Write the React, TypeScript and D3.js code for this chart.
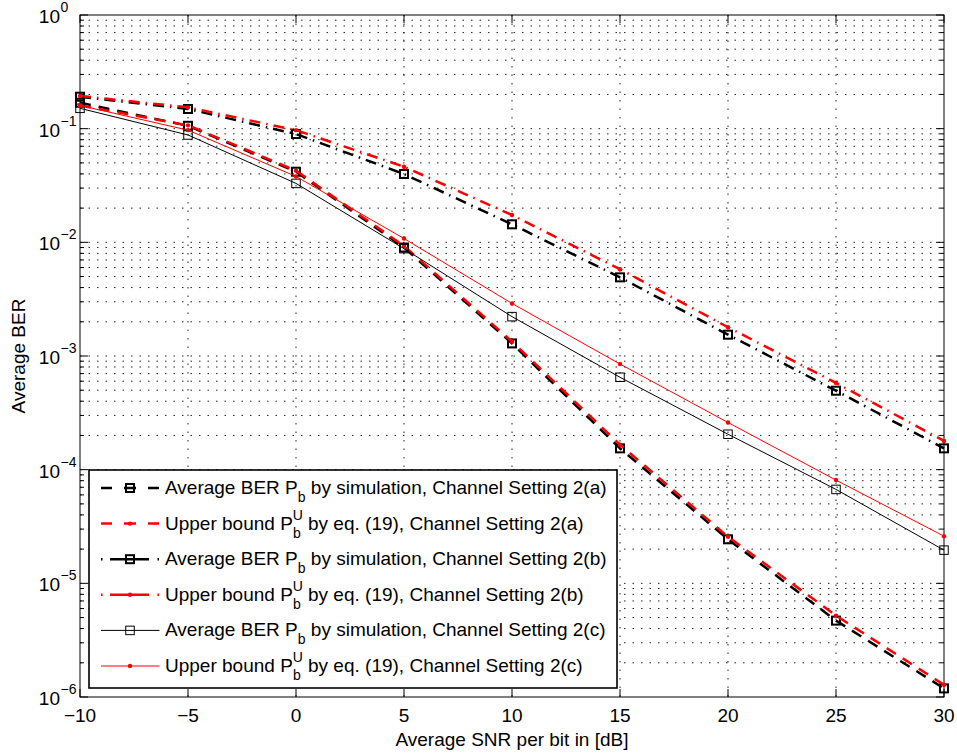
import React from 'react'
import * as d3 from 'd3'

// Data
const snr = [-10, -5, 0, 5, 10, 15, 20, 25, 30]
const simA = [0.169, 0.106, 0.0418, 0.009, 1.29e-3, 1.54e-4, 2.44e-5, 4.7e-6, 1.19e-6]
const boundA = [0.16, 0.107, 0.0427, 0.0093, 1.34e-3, 1.66e-4, 2.57e-5, 5.2e-6, 1.28e-6]
const simB = [0.191, 0.149, 0.0897, 0.0399, 0.0144, 4.92e-3, 1.54e-3, 4.95e-4, 1.54e-4]
const boundB = [0.194, 0.154, 0.097, 0.0463, 0.0174, 5.8e-3, 1.79e-3, 5.8e-4, 1.79e-4]
const simC = [0.151, 0.088, 0.033, 0.0088, 2.22e-3, 6.5e-4, 2.05e-4, 6.7e-5, 1.96e-5]
const boundC = [0.16, 0.097, 0.038, 0.0108, 2.9e-3, 8.5e-4, 2.6e-4, 8.1e-5, 2.6e-5]

const xTicks = [-10, -5, 0, 5, 10, 15, 20, 25, 30]
const yExponents = [0, -1, -2, -3, -4, -5, -6]
const settings = ['2(a)', '2(a)', '2(b)', '2(b)', '2(c)', '2(c)']

const W = 957
const H = 754
const left = 80
const right = 944
const top = 15
const bottom = 697
const font = "'Liberation Sans', Arial, Helvetica, sans-serif"
const fs = 19
const fsSmall = 14

const x = d3.scaleLinear().domain([-10, 30]).range([left, right])
const y = d3.scaleLog().domain([1e-6, 1]).range([bottom, top])

type Series = {
    values: number[]
    color: string
    width: number
    dash: string
    legendDash: string
    marker: 'square' | 'dot'
    markerWidth: number
    bound: boolean
}

const series: Series[] = [
    { values: simA, color: '#000', width: 2.5, dash: '11,8', legendDash: '11,12,12,12,11', marker: 'square', markerWidth: 2, bound: false },
    { values: boundA, color: '#f00', width: 2.5, dash: '11,8', legendDash: '11,12,12,12,11', marker: 'dot', markerWidth: 0, bound: true },
    { values: simB, color: '#000', width: 2.5, dash: '11,6,1.5,6', legendDash: '1.5,7.5,39,8.5,1.5', marker: 'square', markerWidth: 2, bound: false },
    { values: boundB, color: '#f00', width: 2.5, dash: '11,6,1.5,6', legendDash: '1.5,7.5,39,8.5,1.5', marker: 'dot', markerWidth: 0, bound: true },
    { values: simC, color: '#000', width: 1, dash: 'none', legendDash: 'none', marker: 'square', markerWidth: 1, bound: false },
    { values: boundC, color: '#f00', width: 1, dash: 'none', legendDash: 'none', marker: 'dot', markerWidth: 0, bound: true },
]

const lineGen = d3.line<[number, number]>()
    .x(d => x(d[0]))
    .y(d => y(d[1]))

const Marker = ({ s, cx, cy }: { s: Series, cx: number, cy: number }) => {
    if (s.marker === 'dot') {
        return <circle cx={cx} cy={cy} r={2.2} fill={s.color} />
    }
    const size = s.markerWidth > 1 ? 8 : 8.5
    return (
        <rect x={cx - size / 2} y={cy - size / 2} width={size} height={size}
            fill="none" stroke={s.color} strokeWidth={s.markerWidth} />
    )
}

const App = () => {
    const minorY = y.ticks()
    const legX = 89
    const legY = 470
    const legW = 528
    const legH = 218
    const rowH = 35.6

    return (
        <svg width={W} height={H} style={{ position: 'absolute', left: 0, top: 0, background: '#fff' }}
            fontFamily={font}>
            <rect x={0} y={0} width={W} height={H} fill="#fff" />
            {/* grid */}
            <g stroke="#222" strokeWidth={1} strokeDasharray="1.5,7">
                {xTicks.slice(1, -1).map(t => (
                    <line key={'gx' + t} x1={x(t)} x2={x(t)} y1={top} y2={bottom} />
                ))}
                {minorY.filter(t => t > 1e-6 && t < 1).map((t, i) => (
                    <line key={'gy' + i} x1={left} x2={right} y1={y(t)} y2={y(t)} />
                ))}
            </g>
            {/* ticks */}
            <g stroke="#000" strokeWidth={1}>
                {xTicks.map(t => (
                    <g key={'tx' + t}>
                        <line x1={x(t)} x2={x(t)} y1={bottom} y2={bottom - 8} />
                        <line x1={x(t)} x2={x(t)} y1={top} y2={top + 8} />
                    </g>
                ))}
                {minorY.map((t, i) => {
                    const major = Math.abs(Math.log10(t) - Math.round(Math.log10(t))) < 1e-9
                    const len = major ? 8 : 4
                    return (
                        <g key={'ty' + i}>
                            <line x1={left} x2={left + len} y1={y(t)} y2={y(t)} />
                            <line x1={right} x2={right - len} y1={y(t)} y2={y(t)} />
                        </g>
                    )
                })}
            </g>
            <rect x={left} y={top} width={right - left} height={bottom - top} fill="none" stroke="#000" strokeWidth={1} />

            {/* tick labels */}
            <g fontSize={fs} fill="#000">
                {xTicks.map(t => (
                    <text key={'lx' + t} x={x(t)} y={bottom + 25} textAnchor="middle">
                        {t < 0 ? '\u2212' + Math.abs(t) : String(t)}
                    </text>
                ))}
                {yExponents.map(e => (
                    <g key={'ly' + e}>
                        <text x={60} y={y(Math.pow(10, e)) + 8} textAnchor="end">10</text>
                        <text x={60.5} y={y(Math.pow(10, e)) - 3} fontSize={fsSmall}>
                            {e < 0 ? '\u2212' + Math.abs(e) : String(e)}
                        </text>
                    </g>
                ))}
            </g>
            <text x={(left + right) / 2} y={bottom + 49} textAnchor="middle" fontSize={fs}>
                Average SNR per bit in [dB]
            </text>
            <text transform={`translate(25,${(top + bottom) / 2}) rotate(-90)`} textAnchor="middle" fontSize={fs}>
                Average BER
            </text>

            {/* series */}
            {series.map((s, i) => {
                const pts = snr.map((v, j) => [v, s.values[j]] as [number, number])
                return (
                    <g key={'s' + i}>
                        <path d={lineGen(pts) || ''} fill="none" stroke={s.color} strokeWidth={s.width}
                            strokeDasharray={s.dash} />
                        {pts.map((p, j) => (
                            <Marker key={j} s={s} cx={x(p[0])} cy={y(p[1])} />
                        ))}
                    </g>
                )
            })}

            {/* legend */}
            <rect x={legX} y={legY} width={legW} height={legH} fill="#fff" stroke="#000" strokeWidth={1.6} />
            {series.map((s, i) => {
                const cy = legY + 18 + i * rowH
                return (
                    <g key={'lg' + i}>
                        <line x1={101} x2={159.5} y1={cy} y2={cy} stroke={s.color} strokeWidth={s.width}
                            strokeDasharray={s.legendDash} />
                        <Marker s={s} cx={130} cy={cy} />
                        {s.bound ? (
                            <text x={165} y={cy + 6} fontSize={fs}>
                                <tspan>Upper bound P</tspan>
                                <tspan dy={-10} fontSize={fsSmall}>U</tspan>
                                <tspan dx={-10} dy={18} fontSize={fsSmall}>b</tspan>
                                <tspan dx={2} dy={-8}>{' by eq. (19), Channel Setting ' + settings[i]}</tspan>
                            </text>
                        ) : (
                            <text x={165} y={cy + 6} fontSize={fs}>
                                <tspan>Average BER P</tspan>
                                <tspan dy={8} fontSize={fsSmall}>b</tspan>
                                <tspan dy={-8}>{' by simulation, Channel Setting ' + settings[i]}</tspan>
                            </text>
                        )}
                    </g>
                )
            })}
        </svg>
    )
}

export default App
